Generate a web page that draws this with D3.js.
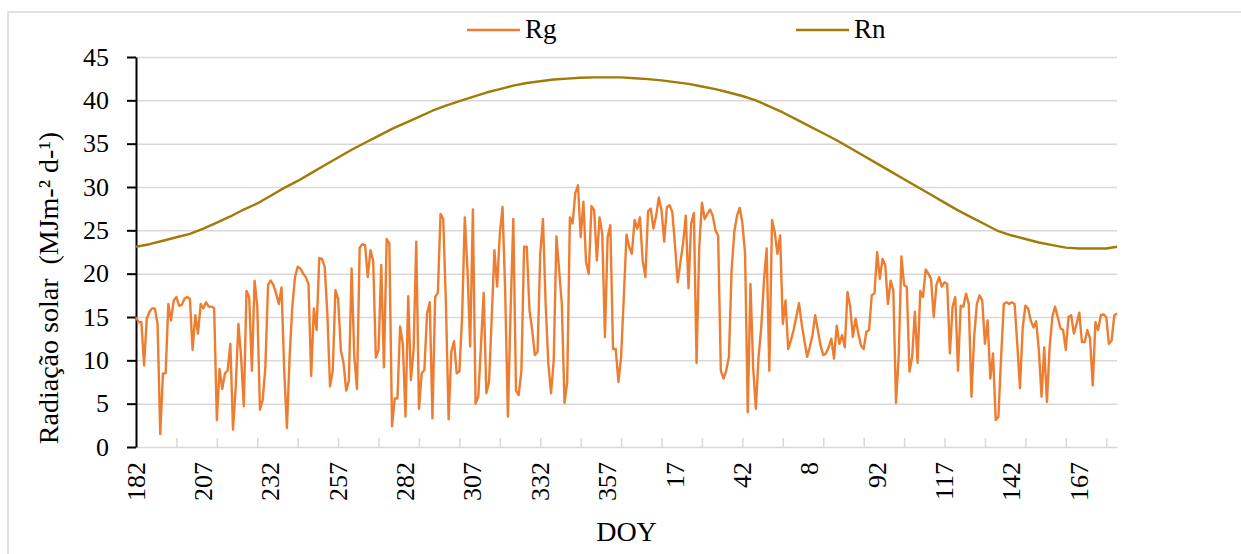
<!DOCTYPE html>
<html>
<head>
<meta charset="utf-8">
<script src="https://cdn.jsdelivr.net/npm/d3@7"></script>
<style>
  body { margin: 0; background: #fff; }
  svg text { font-family: "Liberation Serif", "Times New Roman", serif; fill: #000; }
</style>
</head>
<body>
<svg id="chart" width="1241" height="554"></svg>
<script>
// x labels shown every 25 days (the "8" is as printed in the original)
const xTickLabels = ["182", "207", "232", "257", "282", "307", "332", "357", "17", "42", "8", "92", "117", "142", "167"];
const yTicks = [0, 5, 10, 15, 20, 25, 30, 35, 40, 45];

// daily global radiation, DOY 182 -> 181 (365 days)
const rg = [
  15.0, 14.4, 14.4, 9.4, 14.8, 15.6, 16.0, 16.0, 14.2, 1.5,
  8.5, 8.5, 16.5, 14.6, 16.9, 17.3, 16.3, 16.4, 17.1, 17.3,
  17.1, 11.2, 15.2, 13.1, 16.5, 16.0, 16.7, 16.2, 16.2, 16.0,
  3.1, 9.0, 6.7, 8.5, 8.8, 11.9, 2.0, 6.9, 14.2, 10.4,
  4.7, 18.0, 17.3, 8.8, 19.2, 16.2, 4.3, 5.4, 9.2, 18.7,
  19.2, 18.7, 17.7, 16.5, 18.4, 8.8, 2.2, 10.4, 16.2, 19.6,
  20.8, 20.6, 20.0, 19.6, 18.8, 8.2, 16.0, 13.5, 21.8, 21.7,
  20.8, 15.4, 7.0, 8.8, 18.1, 17.1, 11.2, 9.7, 6.5, 7.7,
  20.6, 10.4, 6.7, 23.0, 23.4, 23.3, 19.6, 22.7, 21.5, 10.3,
  11.2, 21.0, 9.2, 24.0, 23.5, 2.4, 5.6, 5.6, 13.9, 11.9,
  3.5, 17.4, 7.7, 11.2, 23.7, 4.4, 8.5, 8.9, 15.4, 16.7,
  3.3, 17.3, 17.8, 26.9, 26.3, 16.5, 3.2, 11.0, 12.2, 8.5,
  8.7, 15.0, 26.5, 20.4, 11.6, 27.4, 5.0, 5.8, 11.7, 17.8,
  6.2, 7.5, 15.0, 22.7, 18.5, 24.6, 27.7, 17.7, 3.5, 15.8,
  26.3, 6.5, 6.0, 8.8, 23.1, 23.1, 15.8, 13.5, 10.6, 11.0,
  22.3, 26.3, 16.5, 9.6, 6.2, 10.0, 24.3, 20.4, 16.5, 5.1,
  7.5, 26.5, 25.8, 29.3, 30.2, 24.2, 28.3, 21.3, 20.0, 27.8,
  27.3, 21.5, 26.5, 24.6, 12.7, 24.2, 25.6, 11.3, 11.3, 7.5,
  10.4, 17.3, 24.5, 23.1, 22.3, 26.2, 25.2, 26.5, 21.5, 19.6,
  27.2, 27.5, 25.2, 26.7, 28.8, 27.3, 23.7, 27.7, 27.9, 27.1,
  23.3, 19.0, 21.3, 23.5, 26.7, 18.3, 25.8, 27.0, 9.7, 23.1,
  28.2, 26.3, 26.9, 27.4, 26.7, 25.0, 24.4, 8.8, 7.9, 8.8,
  10.4, 20.4, 24.8, 26.7, 27.6, 25.8, 22.3, 4.0, 18.8, 9.2,
  4.4, 10.4, 13.8, 19.2, 22.9, 8.8, 26.2, 24.8, 22.3, 24.4,
  14.2, 16.9, 11.3, 12.3, 13.5, 15.0, 16.6, 14.2, 12.3, 10.4,
  11.5, 12.9, 15.2, 13.5, 11.7, 10.6, 10.8, 11.5, 12.5, 10.2,
  14.0, 11.9, 12.9, 11.5, 17.9, 16.2, 12.7, 14.8, 13.1, 11.7,
  11.3, 13.3, 13.5, 17.5, 17.7, 22.5, 19.4, 21.7, 21.0, 16.5,
  19.2, 18.1, 5.1, 10.4, 22.0, 18.7, 18.5, 8.7, 10.4, 15.6,
  9.7, 18.0, 17.3, 20.5, 20.0, 19.4, 15.0, 18.7, 19.6, 18.5,
  19.0, 18.8, 10.8, 16.2, 17.3, 8.8, 16.3, 16.2, 17.7, 16.5,
  5.8, 12.7, 16.5, 17.5, 16.9, 11.9, 14.6, 7.9, 10.8, 3.1,
  3.5, 10.4, 16.5, 16.7, 16.5, 16.7, 16.5, 11.9, 6.8, 13.7,
  16.3, 16.0, 14.6, 13.8, 14.5, 11.2, 5.8, 11.5, 5.2, 11.5,
  15.0, 16.2, 15.0, 13.7, 13.5, 11.2, 15.0, 15.2, 13.1, 14.2,
  15.5, 12.1, 12.1, 13.5, 12.5, 7.1, 14.4, 13.5, 15.2, 15.3,
  15.0, 11.9, 12.3, 15.2, 15.4
];

// net radiation, read every 5th day (day position from start of series)
const rnDay = [0, 5, 10, 15, 20, 25, 30, 35, 40, 45, 50, 55, 60, 65, 70, 75, 80, 85, 90, 95,
  100, 105, 110, 115, 120, 125, 130, 135, 140, 145, 150, 155, 160, 165, 170, 175, 180, 185, 190, 195,
  200, 205, 210, 215, 220, 225, 230, 235, 240, 245, 250, 255, 260, 265, 270, 275, 280, 285, 290, 295,
  300, 305, 310, 315, 320, 325, 330, 335, 340, 345, 350, 355, 360, 364];
const rn = [23.1, 23.4, 23.8, 24.2, 24.6, 25.2, 25.9, 26.6, 27.4, 28.1, 29.0, 29.9, 30.7, 31.6, 32.5, 33.4, 34.3, 35.1, 35.9, 36.7,
  37.4, 38.1, 38.8, 39.4, 39.9, 40.4, 40.9, 41.3, 41.7, 42.0, 42.2, 42.4, 42.5, 42.6, 42.65, 42.65, 42.65, 42.55, 42.45, 42.3,
  42.1, 41.9, 41.6, 41.3, 40.9, 40.5, 40.0, 39.3, 38.6, 37.8, 37.0, 36.2, 35.4, 34.5, 33.6, 32.7, 31.8, 30.9, 30.0, 29.1,
  28.2, 27.3, 26.5, 25.7, 24.9, 24.4, 24.0, 23.6, 23.3, 23.0, 22.9, 22.9, 22.9, 23.1];

const rgColor = "#ED7D31";
const rnColor = "#A27A05";
const gridColor = "#d9d9d9";

const svg = d3.select("#chart");
const plotLeft = 136, plotRight = 1117, plotTop = 57, plotBottom = 447;

// outer chart border
svg.append("rect")
  .attr("x", 8).attr("y", 12)
  .attr("width", 1245).attr("height", 560)
  .attr("fill", "none")
  .attr("stroke", gridColor)
  .attr("stroke-width", 1.5);

const x = d3.scaleLinear().domain([0, rg.length - 1]).range([plotLeft, plotRight]);
const y = d3.scaleLinear().domain([0, 45]).range([plotBottom, plotTop]);

// horizontal gridlines
svg.append("g")
  .attr("transform", `translate(${plotLeft},0)`)
  .call(d3.axisLeft(y).tickValues(yTicks.slice(1)).tickSize(-(plotRight - plotLeft)).tickFormat(""))
  .call(g => g.select(".domain").remove())
  .selectAll("line").attr("stroke", gridColor).attr("stroke-width", 1.5);

// x axis: gray line, small inside ticks every 15 days
svg.append("g")
  .attr("transform", `translate(0,${plotBottom})`)
  .call(d3.axisBottom(x).tickValues(d3.range(0, rg.length, 15)).tickSize(-9).tickSizeOuter(0).tickFormat(""))
  .call(g => g.select(".domain").attr("stroke", gridColor).attr("stroke-width", 1.5))
  .selectAll("line").attr("stroke", gridColor).attr("stroke-width", 1.5);

// rotated x labels every 25 days
svg.append("g")
  .selectAll("text")
  .data(xTickLabels)
  .enter()
  .append("text")
  .attr("transform", (d, i) => `translate(${x(i * 25)},462) rotate(-90)`)
  .attr("text-anchor", "end")
  .attr("dominant-baseline", "central")
  .style("font-size", "26px")
  .text(d => d);

// y axis
svg.append("g")
  .attr("transform", `translate(${plotLeft},0)`)
  .call(d3.axisLeft(y).tickValues(yTicks).tickSize(9).tickSizeOuter(0).tickPadding(18))
  .call(g => g.select(".domain").attr("stroke", "#000").attr("stroke-width", 2))
  .call(g => g.selectAll(".tick line").attr("stroke", "#000").attr("stroke-width", 2))
  .call(g => g.selectAll(".tick text")
    .style("font-size", "26px")
    .style("font-family", "'Liberation Serif', 'Times New Roman', serif"));

// lines
const line = d3.line().x(d => x(d[0])).y(d => y(d[1]));

svg.append("path")
  .datum(rg.map((v, i) => [i, v]))
  .attr("fill", "none")
  .attr("stroke", rgColor)
  .attr("stroke-width", 2.4)
  .attr("stroke-linejoin", "round")
  .attr("d", line);

svg.append("path")
  .datum(rnDay.map((d, i) => [d, rn[i]]))
  .attr("fill", "none")
  .attr("stroke", rnColor)
  .attr("stroke-width", 2.4)
  .attr("stroke-linejoin", "round")
  .attr("d", line);

// axis titles
svg.append("text")
  .attr("x", (plotLeft + plotRight) / 2)
  .attr("y", 541)
  .attr("text-anchor", "middle")
  .style("font-size", "28px")
  .text("DOY");

svg.append("text")
  .attr("transform", "translate(58,288) rotate(-90)")
  .attr("text-anchor", "middle")
  .style("font-size", "28px")
  .style("white-space", "pre")
  .text("Radiação solar  (MJm-² d-¹)");

// legend
const legend = [
  { name: "Rg", color: rgColor, x: 467 },
  { name: "Rn", color: rnColor, x: 796 }
];
const lg = svg.append("g").selectAll("g").data(legend).enter().append("g");
lg.append("line")
  .attr("x1", d => d.x).attr("x2", d => d.x + 53)
  .attr("y1", 30).attr("y2", 30)
  .attr("stroke", d => d.color)
  .attr("stroke-width", 2.4);
lg.append("text")
  .attr("x", d => d.x + 58)
  .attr("y", 38)
  .style("font-size", "27px")
  .text(d => d.name);
</script>
</body>
</html>
